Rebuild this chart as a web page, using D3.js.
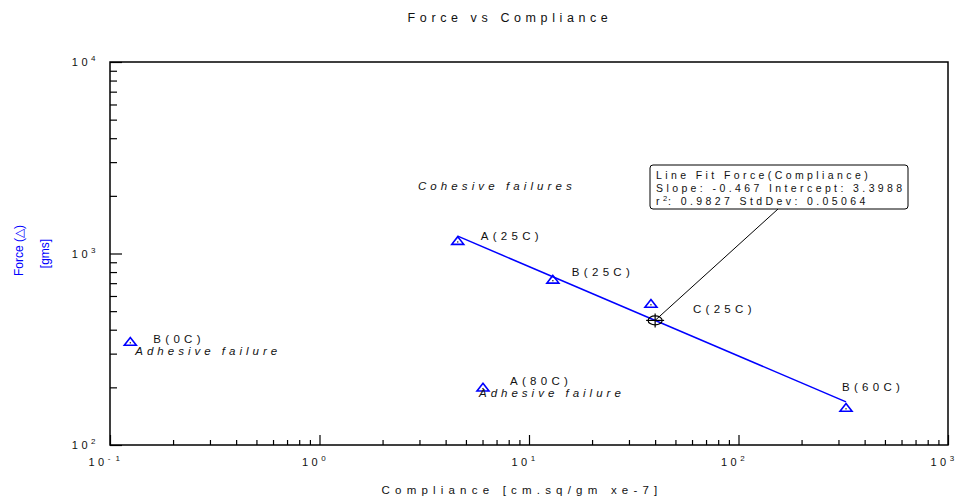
<!DOCTYPE html>
<html>
<head>
<meta charset="utf-8">
<script src="https://cdn.jsdelivr.net/npm/d3@7"></script>
<style>
  body { margin: 0; background: #fff; }
  svg { display: block; font-family: "Liberation Sans", Arial, sans-serif; }
</style>
</head>
<body>
<svg id="chart" width="961" height="499"></svg>
<script>
// Measured specimens: compliance (cm.sq/gm xe-7) and peel force (gms)
const labels     = ["B(0C)", "A(25C)", "B(25C)", "C(25C)", "A(80C)", "B(60C)"];
const compliance = [0.125, 4.57, 13.0, 38.2, 6.03, 326];
const force      = [345, 1160, 728, 545, 199, 156];
const failure    = ["Adhesive failure", "", "", "", "Adhesive failure", ""];
const inFit      = [false, true, true, true, false, true];

// Linear fit of log10(force) on log10(compliance)
const fitSlope = -0.467;
const fitIntercept = 3.3988;
const fitR2 = 0.9827;
const fitStdDev = 0.05064;
const fitCursorX = 40;

// Axis tick exponents
const xExponents = [-1, 0, 1, 2, 3];
const yExponents = [2, 3, 4];

// Free text annotation in data units
const noteText = ["Cohesive failures"];
const noteX = [2.95];
const noteY = [2150];

// Layout
const W = 961, H = 499;
const M = { left: 110, right: 948, top: 62, bottom: 445 };
const labelOffset = [[23, 1], [23, -1], [19, -4], [42, 9], [27, -3], [-4, -17]];
const failureOffset = [[5, 13], [0, 0], [0, 0], [0, 0], [-4, 9], [0, 0]];
const blue = "#0000ff";
const spacedFont = 11.5, spacing = 4.0;

const svg = d3.select("#chart");

const x = d3.scaleLog().domain([0.1, 1000]).range([M.left, M.right]);
const y = d3.scaleLog().domain([100, 10000]).range([M.bottom, M.top]);

// Title
svg.append("text")
  .attr("x", 510).attr("y", 22)
  .attr("text-anchor", "middle")
  .style("font-size", "12.5px").style("letter-spacing", "4.6px")
  .attr("fill", "#111")
  .text("Force vs Compliance");

// Minor and major ticks, pointing into the plot
const xMinor = x.ticks().filter(v => Math.abs(Math.log10(v) % 1) > 1e-9);
const yMinor = y.ticks().filter(v => Math.abs(Math.log10(v) % 1) > 1e-9);
const xMajor = xExponents.map(e => Math.pow(10, e));
const yMajor = yExponents.map(e => Math.pow(10, e));

function styleAxis(g) {
  g.select(".domain").remove();
  g.selectAll(".tick line").attr("stroke", "#000").attr("stroke-width", 1.2);
  g.selectAll(".tick text").remove();
}

svg.append("g").attr("transform", `translate(0,${M.bottom})`)
  .call(d3.axisBottom(x).tickValues(xMinor).tickSize(-5).tickFormat(""))
  .call(styleAxis);
svg.append("g").attr("transform", `translate(0,${M.bottom})`)
  .call(d3.axisBottom(x).tickValues(xMajor).tickSize(-10).tickFormat(""))
  .call(styleAxis);
svg.append("g").attr("transform", `translate(${M.left},0)`)
  .call(d3.axisLeft(y).tickValues(yMinor).tickSize(-7).tickFormat(""))
  .call(styleAxis);
svg.append("g").attr("transform", `translate(${M.left},0)`)
  .call(d3.axisLeft(y).tickValues(yMajor).tickSize(-12).tickFormat(""))
  .call(styleAxis);

// Frame
svg.append("rect")
  .attr("x", M.left).attr("y", M.top)
  .attr("width", M.right - M.left).attr("height", M.bottom - M.top)
  .attr("fill", "none").attr("stroke", "#000").attr("stroke-width", 1.5);

// Power-of-ten tick labels
function powerLabel(sel, e) {
  sel.append("tspan").text("10");
  sel.append("tspan").attr("dy", -5).style("font-size", "8px").style("letter-spacing", "1.5px")
    .text(e < 0 ? "- " + Math.abs(e) : String(e));
}
xExponents.forEach(e => {
  const t = svg.append("text")
    .attr("x", x(Math.pow(10, e)) - 5).attr("y", 466)
    .attr("text-anchor", "middle")
    .style("font-size", "11px").style("letter-spacing", "3.5px").attr("fill", "#111");
  powerLabel(t, e);
});
yExponents.forEach(e => {
  const t = svg.append("text")
    .attr("x", 97).attr("y", y(Math.pow(10, e)) + 4)
    .attr("text-anchor", "end")
    .style("font-size", "11px").style("letter-spacing", "3.5px").attr("fill", "#111");
  powerLabel(t, e);
});

// Axis titles
svg.append("text")
  .attr("x", 522).attr("y", 494)
  .attr("text-anchor", "middle")
  .style("font-size", "11.5px").style("letter-spacing", "5.2px").attr("fill", "#111")
  .text("Compliance [cm.sq/gm xe-7]");

const yMid = (M.top + M.bottom) / 2;
svg.append("text")
  .attr("transform", `translate(23,${yMid - 3}) rotate(-90)`)
  .attr("text-anchor", "middle")
  .style("font-size", "12px").attr("fill", blue)
  .text("Force (△)");
svg.append("text")
  .attr("transform", `translate(49,${yMid}) rotate(-90)`)
  .attr("text-anchor", "middle")
  .style("font-size", "12px").attr("fill", blue)
  .text("[gms]");

// Fit line across the fitted specimens
const fitX = compliance.filter((c, i) => inFit[i]);
const fitFn = c => Math.pow(10, fitIntercept + fitSlope * Math.log10(c));
const xs = d3.extent(fitX);
svg.append("path")
  .datum(xs)
  .attr("fill", "none").attr("stroke", blue).attr("stroke-width", 1.5)
  .attr("d", d3.line().x(c => x(c)).y(c => y(fitFn(c))));

// Specimen markers: open triangles with a centre dot
const pts = labels.map((l, i) => ({ l, c: compliance[i], f: force[i], fail: failure[i], i }));
const marker = svg.append("g").selectAll("g").data(pts).join("g")
  .attr("transform", d => `translate(${x(d.c)},${y(d.f)})`);
marker.append("path")
  .attr("d", "M0,-4.5 L6,3.2 L-6,3.2 Z")
  .attr("fill", "none").attr("stroke", blue).attr("stroke-width", 1.6);
marker.append("rect")
  .attr("x", -0.6).attr("y", 0.2).attr("width", 1.2).attr("height", 1.2)
  .attr("fill", "#000");

// Specimen labels
svg.append("g").selectAll("text").data(pts).join("text")
  .attr("x", d => x(d.c) + labelOffset[d.i][0])
  .attr("y", d => y(d.f) + labelOffset[d.i][1])
  .style("font-size", spacedFont + "px").style("letter-spacing", "4.3px")
  .attr("fill", "#111")
  .text(d => d.l);
svg.append("g").selectAll("text").data(pts.filter(d => d.fail)).join("text")
  .attr("x", d => x(d.c) + failureOffset[d.i][0])
  .attr("y", d => y(d.f) + failureOffset[d.i][1])
  .style("font-size", spacedFont + "px").style("letter-spacing", spacing + "px")
  .style("font-style", "italic").attr("fill", "#111")
  .text(d => d.fail);

// Free notes
noteText.forEach((t, i) => {
  svg.append("text")
    .attr("x", x(noteX[i])).attr("y", y(noteY[i]))
    .style("font-size", spacedFont + "px").style("letter-spacing", "4.1px")
    .style("font-style", "italic").attr("fill", "#111")
    .text(t);
});

// Fit cursor with leader and result box
const cx = x(fitCursorX), cy = y(fitFn(fitCursorX));
const box = { x: 650, y: 165, w: 258, h: 44, leadX: 778 };
svg.append("line")
  .attr("x1", box.leadX).attr("y1", box.y + box.h).attr("x2", cx).attr("y2", cy)
  .attr("stroke", "#000").attr("stroke-width", 1);
svg.append("ellipse")
  .attr("cx", cx).attr("cy", cy).attr("rx", 7).attr("ry", 4.5)
  .attr("fill", "none").attr("stroke", "#000").attr("stroke-width", 1.2);
svg.append("line").attr("x1", cx - 9).attr("x2", cx + 9).attr("y1", cy).attr("y2", cy)
  .attr("stroke", "#000").attr("stroke-width", 1.2);
svg.append("line").attr("x1", cx).attr("x2", cx).attr("y1", cy - 7).attr("y2", cy + 7)
  .attr("stroke", "#000").attr("stroke-width", 1.2);

svg.append("rect")
  .attr("x", box.x).attr("y", box.y).attr("width", box.w).attr("height", box.h)
  .attr("rx", 3).attr("fill", "#fff").attr("stroke", "#000").attr("stroke-width", 1);

const boxText = svg.append("g")
  .style("font-size", "10.5px").style("letter-spacing", "3.4px").attr("fill", "#111");
boxText.append("text").attr("x", box.x + 6).attr("y", box.y + 14)
  .text("Line Fit Force(Compliance)");
boxText.append("text").attr("x", box.x + 6).attr("y", box.y + 27)
  .text(`Slope: ${fitSlope} Intercept: ${fitIntercept}`);
const r2 = boxText.append("text").attr("x", box.x + 6).attr("y", box.y + 40);
r2.append("tspan").text("r");
r2.append("tspan").attr("dy", -4).style("font-size", "7.5px").style("letter-spacing", "1px").text("2");
r2.append("tspan").attr("dy", 4).text(`: ${fitR2} StdDev: ${fitStdDev}`);
</script>
</body>
</html>
